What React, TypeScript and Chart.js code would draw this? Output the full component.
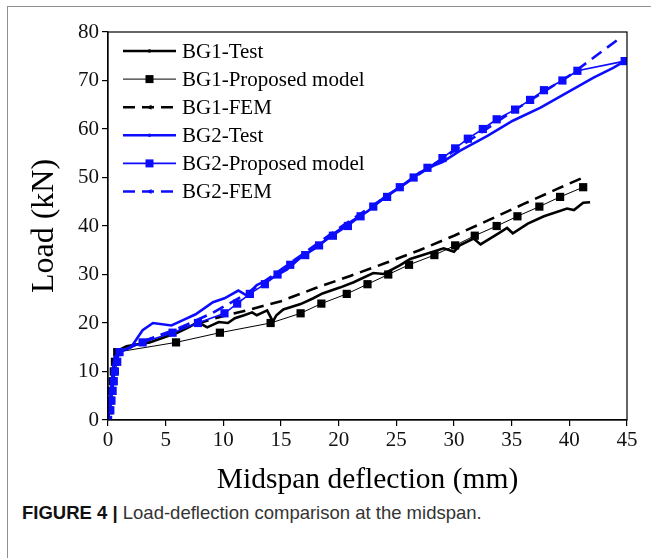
import React, { useEffect, useRef } from "react";
import { Chart, registerables } from "chart.js";

Chart.register(...registerables);

const BLUE = "#0c0cff";
const BLACK = "#000000";

// ---- data ----
const bg1TestX = [0, 0.2, 0.35, 0.5, 0.6, 1.0, 1.6, 3.6, 6.0, 6.9, 7.8, 8.6, 9.6, 10.4, 11.0, 11.8, 12.5, 12.9, 13.8, 14.1, 14.3, 14.6, 15.2, 16.7, 17.8, 18.6, 20.1, 21.3, 23.0, 23.9, 25.3, 26.2, 27.3, 29.1, 30.0, 30.5, 31.7, 32.3, 34.0, 34.6, 35.1, 36.4, 37.8, 39.8, 40.4, 41.2, 41.8];
const bg1TestY = [0, 3, 7, 11, 13, 14.5, 15.2, 16, 18, 19, 20.2, 19.1, 20.2, 20, 21, 21.6, 22.2, 21.6, 22.6, 21.2, 20.3, 21.6, 22.8, 23.9, 25.1, 26.1, 27.3, 28.4, 30.3, 30.1, 31.9, 33.2, 34, 35.4, 34.7, 36, 37.4, 36.2, 38.7, 39.6, 38.5, 40.5, 42, 43.6, 43.3, 44.8, 44.9];

const bg1ModelX = [0, 0.1, 0.2, 0.3, 0.4, 0.5, 0.6, 0.8, 5.9, 9.7, 14.1, 16.7, 18.5, 20.7, 22.5, 24.3, 26.1, 28.3, 30.1, 31.8, 33.7, 35.5, 37.4, 39.2, 41.2];
const bg1ModelY = [0, 2, 4, 6, 8, 10, 12, 14, 16, 18, 20, 22, 24, 26, 28, 30, 32, 34, 36, 38, 40, 42, 44, 46, 48];

const bg1FemX = [0, 0.3, 0.6, 1.0, 3.0, 6.0, 9.0, 12.0, 15.0, 18.0, 21.0, 24.0, 27.0, 30.0, 33.0, 36.0, 39.0, 41.2];
const bg1FemY = [0, 6, 12, 14, 16.2, 18.5, 20.8, 22.6, 24.5, 27.2, 29.7, 32.3, 35, 38, 41.2, 44.5, 47.7, 50];

const bg2TestX = [0, 0.15, 0.3, 0.45, 0.6, 1.0, 2.0, 3.0, 3.9, 5.5, 6.5, 7.6, 9.1, 10.1, 11.3, 12.0, 12.9, 14.3, 15.5, 16.7, 18.0, 19.5, 21.0, 22.5, 24.0, 25.5, 27.0, 28.3, 29.0, 30.5, 32.9, 35.1, 37.5, 39.8, 42.1, 43.8, 44.8];
const bg2TestY = [0, 3, 7, 11, 13, 14, 15, 18.5, 20, 19.5, 20.6, 21.8, 24.3, 25.1, 26.7, 25.7, 27.8, 29.4, 31, 33.5, 35.5, 38.3, 40.8, 43, 46, 48.3, 51, 52.5, 53.2, 55.5, 58.6, 61.7, 64.4, 67.5, 70.6, 72.6, 74];

const bg2ModelX = [0, 0.2, 0.3, 0.4, 0.5, 0.6, 0.8, 1.0, 3.0, 5.6, 7.8, 10.1, 11.2, 12.3, 13.6, 14.7, 15.8, 17.1, 18.3, 19.5, 20.8, 21.9, 23.0, 24.2, 25.3, 26.5, 27.7, 29.0, 30.1, 31.2, 32.5, 33.7, 35.3, 36.6, 37.8, 39.4, 40.7, 44.8];
const bg2ModelY = [0, 2, 4, 6, 8, 10, 12, 14, 16, 18, 20, 22, 24, 26, 28, 30, 32, 34, 36, 38, 40, 42, 44, 46, 48, 50, 52, 54, 56, 58, 60, 62, 64, 66, 68, 70, 72, 74];

const bg2FemX = [0, 0.3, 0.6, 1.0, 3.0, 6.0, 9.0, 12.0, 15.0, 20.0, 25.0, 30.0, 35.0, 40.0, 44.3];
const bg2FemY = [0, 6, 12, 14, 16.2, 18.8, 22, 26, 31, 39.5, 47.5, 55.5, 63.5, 71, 78.6];

const seriesNames = ["BG1-Test", "BG1-Proposed model", "BG1-FEM", "BG2-Test", "BG2-Proposed model", "BG2-FEM"];
const xTickValues = [0, 5, 10, 15, 20, 25, 30, 35, 40, 45];
const yTickValues = [0, 10, 20, 30, 40, 50, 60, 70, 80];
const xTitle = "Midspan deflection (mm)";
const yTitle = "Load (kN)";
const captionBold = "FIGURE 4 |";
const captionText = " Load-deflection comparison at the midspan.";

const pts = (xs: number[], ys: number[]) => xs.map((x, i) => ({ x, y: ys[i] }));

const SERIF = "'Liberation Serif', 'Times New Roman', serif";

type LegendKind = "test" | "model" | "fem";
const legendKinds: LegendKind[] = ["test", "model", "fem", "test", "model", "fem"];
const legendColors = [BLACK, BLACK, BLACK, BLUE, BLUE, BLUE];

const framePlugin = {
  id: "frame",
  afterDraw(chart: any) {
    const { ctx, chartArea } = chart;
    ctx.save();
    ctx.strokeStyle = "#000";
    ctx.lineWidth = 1.2;
    ctx.strokeRect(chartArea.left, chartArea.top, chartArea.right - chartArea.left, chartArea.bottom - chartArea.top);
    ctx.restore();
  },
};

const legendPlugin = {
  id: "customLegend",
  afterDraw(chart: any) {
    const { ctx, chartArea } = chart;
    const x0 = chartArea.left + 15;
    const x1 = chartArea.left + 68;
    const tx = chartArea.left + 74;
    const y0 = chartArea.top + 19;
    const dy = 28.1;
    ctx.save();
    seriesNames.forEach((name, i) => {
      const y = y0 + i * dy;
      const kind = legendKinds[i];
      const c = legendColors[i];
      ctx.strokeStyle = c;
      ctx.fillStyle = c;
      ctx.setLineDash(kind === "fem" ? [12, 7] : []);
      ctx.lineWidth = kind === "model" ? (c === BLUE ? 1.6 : 1) : 2.6;
      ctx.beginPath();
      ctx.moveTo(x0, y);
      ctx.lineTo(x1, y);
      ctx.stroke();
      ctx.setLineDash([]);
      const mx = (x0 + x1) / 2;
      if (kind === "model") {
        ctx.fillRect(mx - 4, y - 4, 8, 8);
      } else if (kind === "test") {
        ctx.beginPath();
        ctx.arc(mx, y, 1.8, 0, Math.PI * 2);
        ctx.fill();
      } else {
        ctx.beginPath();
        ctx.moveTo(mx - 3, y);
        ctx.lineTo(mx + 2, y - 2.5);
        ctx.lineTo(mx + 2, y + 2.5);
        ctx.closePath();
        ctx.fill();
      }
      ctx.fillStyle = "#000";
      ctx.font = `21px ${SERIF}`;
      ctx.textBaseline = "middle";
      ctx.textAlign = "left";
      ctx.fillText(name, tx, y + 1);
    });
    ctx.restore();
  },
};

export default function App() {
  const ref = useRef<HTMLCanvasElement | null>(null);

  useEffect(() => {
    if (!ref.current) return;
    const chart = new Chart(ref.current, {
      type: "line",
      data: {
        datasets: [
          {
            label: seriesNames[0],
            data: pts(bg1TestX, bg1TestY),
            borderColor: BLACK,
            borderWidth: 2.6,
            pointRadius: 0,
            order: 5,
          },
          {
            label: seriesNames[1],
            data: pts(bg1ModelX, bg1ModelY),
            borderColor: BLACK,
            borderWidth: 1,
            pointStyle: "rect",
            pointRadius: 5.8,
            pointBackgroundColor: BLACK,
            pointBorderColor: BLACK,
            pointBorderWidth: 0,
            order: 3,
          },
          {
            label: seriesNames[2],
            data: pts(bg1FemX, bg1FemY),
            borderColor: BLACK,
            borderWidth: 2.6,
            borderDash: [12, 7],
            pointRadius: 0,
            order: 4,
          },
          {
            label: seriesNames[3],
            data: pts(bg2TestX, bg2TestY),
            borderColor: BLUE,
            borderWidth: 2.6,
            pointRadius: 0,
            order: 2,
          },
          {
            label: seriesNames[4],
            data: pts(bg2ModelX, bg2ModelY),
            borderColor: BLUE,
            borderWidth: 1.6,
            pointStyle: "rect",
            pointRadius: 5.8,
            pointBackgroundColor: BLUE,
            pointBorderColor: BLUE,
            pointBorderWidth: 0,
            order: 0,
          },
          {
            label: seriesNames[5],
            data: pts(bg2FemX, bg2FemY),
            borderColor: BLUE,
            borderWidth: 2.6,
            borderDash: [12, 7],
            pointRadius: 0,
            order: 1,
          },
        ],
      },
      options: {
        animation: false,
        responsive: false,
        devicePixelRatio: 1,
        layout: { padding: { top: 32, right: 24, left: 0, bottom: 0 } },
        plugins: {
          legend: { display: false },
          tooltip: { enabled: false },
        },
        scales: {
          x: {
            type: "linear",
            min: 0,
            max: 45,
            afterBuildTicks: (s: any) => {
              s.ticks = xTickValues.map((v) => ({ value: v }));
            },
            afterFit: (s: any) => {
              s.height = 78;
            },
            ticks: {
              font: { family: SERIF, size: 21 },
              color: "#111",
              padding: 2,
              maxRotation: 0,
            },
            grid: { drawOnChartArea: false, drawTicks: true, tickLength: 6, color: "#000", lineWidth: 1.2 },
            border: { color: "#000", width: 1.2 },
            title: {
              display: true,
              text: xTitle,
              font: { family: SERIF, size: 29.5 },
              color: "#000",
              padding: 0,
            },
          },
          y: {
            type: "linear",
            min: 0,
            max: 80,
            afterBuildTicks: (s: any) => {
              s.ticks = yTickValues.map((v) => ({ value: v }));
            },
            afterFit: (s: any) => {
              s.width = 108;
            },
            ticks: {
              font: { family: SERIF, size: 21 },
              color: "#111",
              padding: 3,
            },
            grid: { drawOnChartArea: false, drawTicks: true, tickLength: 6, color: "#000", lineWidth: 1.2 },
            border: { color: "#000", width: 1.2 },
            title: {
              display: true,
              text: yTitle,
              font: { family: SERIF, size: 32 },
              color: "#000",
              padding: { top: 25, bottom: 0 },
            },
          },
        },
      },
      plugins: [framePlugin, legendPlugin],
    } as any);
    return () => chart.destroy();
  }, []);

  return (
    <div style={{ position: "absolute", left: 0, top: 0, width: 651, height: 558, overflow: "hidden", background: "#fff" }}>
      <div
        style={{
          position: "absolute",
          left: 7,
          top: 6,
          width: 800,
          height: 800,
          borderLeft: "1.5px solid #909090",
          borderTop: "1.5px solid #909090",
        }}
      />
      <canvas ref={ref} width={651} height={498} style={{ position: "absolute", left: 0, top: 0, width: 651, height: 498 }} />
      <div
        style={{
          position: "absolute",
          left: 22,
          top: 501,
          fontFamily: "'Liberation Sans', Arial, sans-serif",
          fontSize: 18.5,
          color: "#333",
          whiteSpace: "nowrap",
          lineHeight: "24px",
        }}
      >
        <b style={{ color: "#111" }}>{captionBold}</b>
        {captionText}
      </div>
    </div>
  );
}
